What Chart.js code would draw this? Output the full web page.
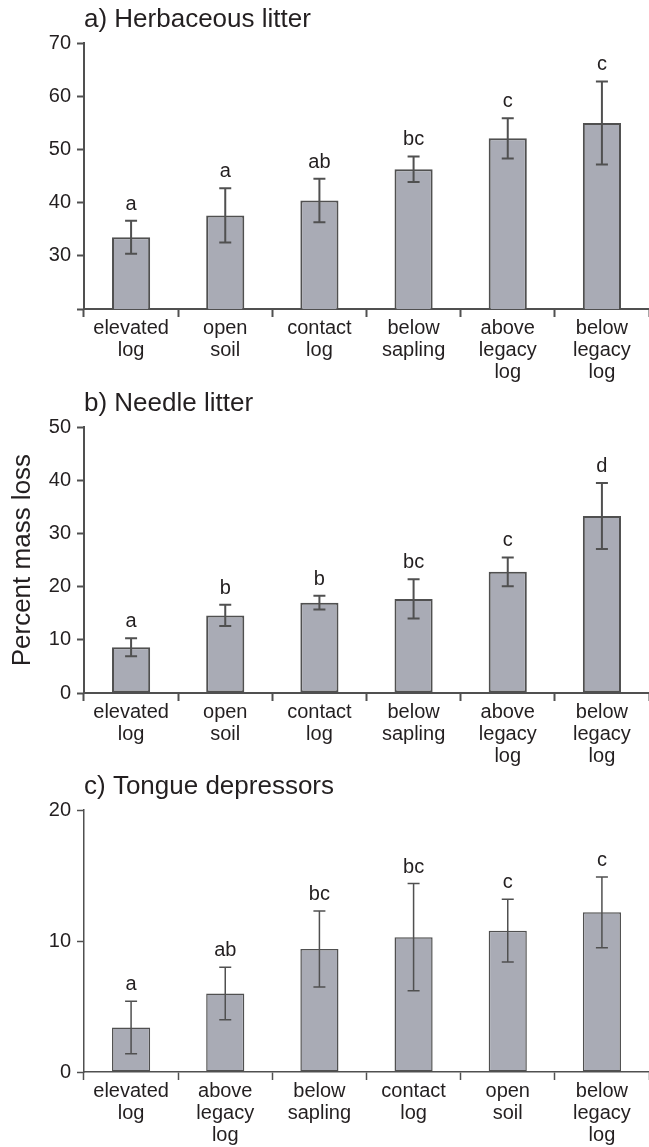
<!DOCTYPE html>
<html>
<head>
<meta charset="utf-8">
<script src="https://cdn.jsdelivr.net/npm/chart.js@4.4.1/dist/chart.umd.min.js"></script>
<style>
  html, body { margin: 0; padding: 0; background: #ffffff; overflow: hidden; }
  #wrap { position: relative; width: 649px; height: 1147px; }
  canvas { position: absolute; left: 0; }
</style>
</head>
<body>
<div id="wrap">
  <canvas id="cA" width="649" height="384" style="top:0px"></canvas>
  <canvas id="cB" width="649" height="384" style="top:384px"></canvas>
  <canvas id="cC" width="649" height="380" style="top:767px"></canvas>
</div>
<script>
// ---------- DATA ----------
const titleA = 'a) Herbaceous litter';
const categoriesA = [['elevated','log'], ['open','soil'], ['contact','log'], ['below','sapling'], ['above','legacy','log'], ['below','legacy','log']];
const meansA = [33.5, 37.6, 40.4, 46.3, 52.1, 55.0];
const errsA = [3.1, 5.1, 4.1, 2.4, 3.8, 7.8];
const lettersA = ['a', 'a', 'ab', 'bc', 'c', 'c'];
const yMinA = 20, yMaxA = 70, yStepA = 10;
const hiddenTicksA = [20];

const titleB = 'b) Needle litter';
const categoriesB = [['elevated','log'], ['open','soil'], ['contact','log'], ['below','sapling'], ['above','legacy','log'], ['below','legacy','log']];
const meansB = [8.6, 14.6, 17.0, 17.7, 22.8, 33.3];
const errsB = [1.7, 2.0, 1.3, 3.7, 2.7, 6.2];
const lettersB = ['a', 'b', 'b', 'bc', 'c', 'd'];
const yMinB = 0, yMaxB = 50, yStepB = 10;
const yTitleB = 'Percent mass loss';

const titleC = 'c) Tongue depressors';
const categoriesC = [['elevated','log'], ['above','legacy','log'], ['below','sapling'], ['contact','log'], ['open','soil'], ['below','legacy','log']];
const meansC = [3.4, 6.0, 9.4, 10.3, 10.8, 12.2];
const errsC = [2.0, 2.0, 2.9, 4.1, 2.4, 2.7];
const lettersC = ['a', 'ab', 'bc', 'bc', 'c', 'c'];
const yMinC = 0, yMaxC = 20, yStepC = 10;

// ---------- STYLE ----------
const FONT = "'Liberation Sans', Arial, Helvetica, sans-serif";
const TEXT = '#231f20';
const LINE = '#505050';
const FILL = '#a9abb5';

const errorBarPlugin = {
  id: 'errorBars',
  afterDatasetsDraw(chart, args, opts) {
    const ctx = chart.ctx;
    const yScale = chart.scales.y;
    const meta = chart.getDatasetMeta(0);
    ctx.save();
    ctx.strokeStyle = LINE;
    ctx.lineWidth = opts.lineWidth;
    ctx.fillStyle = TEXT;
    ctx.font = '20px ' + FONT;
    ctx.textAlign = 'center';
    ctx.textBaseline = 'alphabetic';
    const half = 6;
    opts.means.forEach((m, i) => {
      const px = meta.data[i].x;
      const top = yScale.getPixelForValue(m + opts.errs[i]);
      const bot = yScale.getPixelForValue(m - opts.errs[i]);
      ctx.beginPath();
      ctx.moveTo(px, top); ctx.lineTo(px, bot);
      ctx.moveTo(px - half, top); ctx.lineTo(px + half, top);
      ctx.moveTo(px - half, bot); ctx.lineTo(px + half, bot);
      ctx.stroke();
      ctx.fillText(opts.letters[i], px, top - 11);
    });
    ctx.restore();
  }
};

function makeChart(id, title, cats, means, errs, letters, yMin, yMax, yStep, hidden, yTitle, lw) {
  return new Chart(document.getElementById(id), {
    type: 'bar',
    data: {
      labels: cats,
      datasets: [{
        data: means,
        backgroundColor: FILL,
        borderColor: LINE,
        borderWidth: lw,
        borderSkipped: false,
        barPercentage: 0.405,
        categoryPercentage: 1.0
      }]
    },
    plugins: [errorBarPlugin],
    options: {
      responsive: false,
      animation: false,
      devicePixelRatio: 1,
      layout: { padding: { left: 0, right: 0, top: 0, bottom: 0 } },
      plugins: {
        legend: { display: false },
        tooltip: { enabled: false },
        title: {
          display: true,
          text: title,
          align: 'start',
          fullSize: false,
          color: TEXT,
          font: { family: FONT, size: 26, weight: 'normal', lineHeight: 1.2 },
          padding: { top: 4, bottom: 8 }
        },
        errorBars: { means: means, errs: errs, letters: letters, lineWidth: lw }
      },
      scales: {
        x: {
          type: 'category',
          offset: true,
          grid: { display: true, offset: true, drawOnChartArea: false, drawTicks: true, tickLength: 8, tickColor: LINE, tickWidth: lw },
          border: { display: true, color: LINE, width: lw },
          ticks: {
            color: TEXT, autoSkip: false, maxRotation: 0, minRotation: 0, padding: 0,
            font: { family: FONT, size: 20, lineHeight: 1.1 }
          },
          afterFit(scale) { scale.height = 75; }
        },
        y: {
          min: yMin, max: yMax,
          grid: { display: true, drawOnChartArea: false, drawTicks: true, tickLength: 7, tickColor: LINE, tickWidth: lw },
          border: { display: true, color: LINE, width: lw },
          ticks: {
            stepSize: yStep, color: TEXT, padding: 6,
            font: { family: FONT, size: 20 },
            callback: (v) => (hidden && hidden.includes(v)) ? '' : String(v)
          },
          title: {
            display: !!yTitle,
            text: yTitle || '',
            color: TEXT,
            font: { family: FONT, size: 26, weight: 'normal', lineHeight: 1.2 },
            padding: { top: 7, bottom: 0 }
          },
          afterFit(scale) { scale.width = 84; }
        }
      }
    }
  });
}

makeChart('cA', titleA, categoriesA, meansA, errsA, lettersA, yMinA, yMaxA, yStepA, hiddenTicksA, null, 2);
makeChart('cB', titleB, categoriesB, meansB, errsB, lettersB, yMinB, yMaxB, yStepB, null, yTitleB, 2);
makeChart('cC', titleC, categoriesC, meansC, errsC, lettersC, yMinC, yMaxC, yStepC, null, null, 1.5);
</script>
</body>
</html>
